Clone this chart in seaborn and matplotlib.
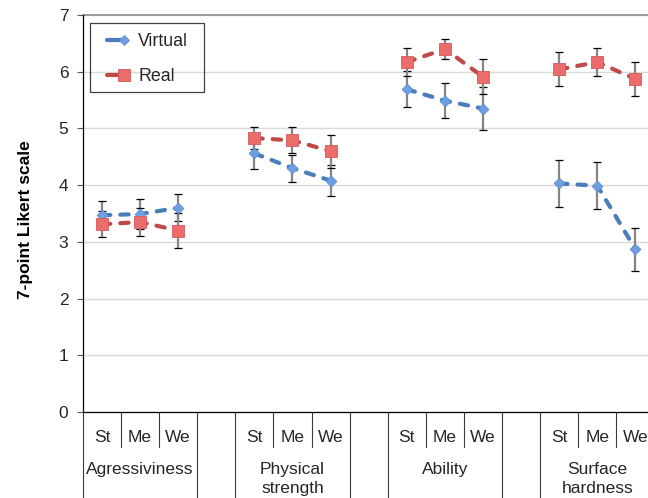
import numpy as np
import pandas as pd
import matplotlib
matplotlib.use("Agg")
import matplotlib.pyplot as plt
import seaborn as sns
from matplotlib.lines import Line2D
from matplotlib.patches import Rectangle
from matplotlib.legend_handler import HandlerLine2D

# ---- data ----
groups = ["Agressiviness", "Physical\nstrength", "Ability", "Surface\nhardness"]
levels = ["St", "Me", "We"]
virtual_mean = [3.47, 3.49, 3.60, 4.56, 4.30, 4.08, 5.69, 5.49, 5.35, 4.03, 3.99, 2.87]
virtual_err = [0.25, 0.26, 0.24, 0.28, 0.24, 0.28, 0.32, 0.31, 0.38, 0.42, 0.41, 0.38]
real_mean = [3.31, 3.35, 3.20, 4.83, 4.79, 4.60, 6.17, 6.40, 5.91, 6.04, 6.17, 5.87]
real_err = [0.23, 0.24, 0.30, 0.19, 0.23, 0.29, 0.25, 0.17, 0.31, 0.30, 0.24, 0.30]
y_ticks = [0, 1, 2, 3, 4, 5, 6, 7]

rows = []
for sname, means, errs in [("Virtual", virtual_mean, virtual_err), ("Real", real_mean, real_err)]:
    for gi, g in enumerate(groups):
        for li, lv in enumerate(levels):
            k = gi * 3 + li
            rows.append(dict(series=sname, group=g, level=lv, x=gi * 4 + li,
                             mean=means[k], err=errs[k]))
df = pd.DataFrame(rows)

style = {
    "Virtual": dict(line="#4A7EBB", face="#6E9FE0", edge="#5B8ED6", marker="D", s=30),
    "Real": dict(line="#BE4B48", face="#EC6B6B", edge="#D65A5A", marker="s", s=64),
}

sns.set_theme(style="white")
plt.rcParams["font.family"] = ["Liberation Sans", "DejaVu Sans"]
FS = 12.5

W, H = 648, 498
fig = plt.figure(figsize=(W / 100, H / 100), dpi=100)
ax = fig.add_axes([82.9 / W, 1 - 412 / H, 571.6 / W, 397 / H])

for sname in ["Virtual", "Real"]:
    st = style[sname]
    sub = df[df.series == sname]
    sns.lineplot(data=sub, x="x", y="mean", units="group", estimator=None,
                 color=st["line"], lw=3.0, linestyle=(0, (2.0, 2.4)),
                 dash_capstyle="round", ax=ax, zorder=2, legend=False)
    cont = ax.errorbar(sub["x"], sub["mean"], yerr=sub["err"], fmt="none",
                       ecolor="#858585", elinewidth=1.6, capsize=2.6,
                       capthick=0.9, zorder=3)
    for cl in cont[1]:
        cl.set_markeredgecolor("black")
    sns.scatterplot(data=sub, x="x", y="mean", marker=st["marker"], s=st["s"],
                    color=st["face"], edgecolor=st["edge"], linewidth=0.6,
                    ax=ax, zorder=4, legend=False)

ax.set_xlim(-0.5, 14.5)
ax.set_ylim(0, 7)
ax.set_yticks(y_ticks)
ax.set_yticklabels([str(t) for t in y_ticks], fontsize=FS)
ax.yaxis.grid(True, color="#D9D9D9", lw=1.0)
ax.xaxis.grid(False)
ax.set_axisbelow(True)
ax.axhline(7, color="#8C8C8C", lw=1.2, zorder=1, clip_on=False)
for side in ["top", "right"]:
    ax.spines[side].set_visible(False)
for side in ["left", "bottom"]:
    ax.spines[side].set_color("black")
    ax.spines[side].set_linewidth(0.9)
ax.tick_params(axis="y", which="both", left=True, length=4, width=0.8,
               color="#555555", pad=6.5, labelsize=FS)

xt = df[df.series == "Virtual"]["x"].tolist()
ax.set_xticks(xt)
ax.set_xticklabels(levels * len(groups), fontsize=FS)
ax.tick_params(axis="x", length=0, pad=13)
ax.set_xlabel("")

ax.set_ylabel("7-point Likert scale", fontsize=12.5, fontweight="bold", color="black")
ax.yaxis.set_label_coords(-0.088, 0.485)

# category table lines below the axis
trans = ax.get_xaxis_transform()
short_y = -(447 - 412) / 397
long_y = -0.25
for gi in range(len(groups)):
    base = gi * 4
    for b in [base + 0.5, base + 1.5]:
        ax.plot([b, b], [0, short_y], transform=trans, color="#3a3a3a", lw=0.8,
                clip_on=False)
    for b in [base - 0.5, base + 2.5]:
        ax.plot([b, b], [0, long_y], transform=trans, color="#3a3a3a", lw=0.8,
                clip_on=False)
    ax.text(base + 1, -(462 - 412) / 397, groups[gi], transform=trans,
            ha="center", va="top", fontsize=FS, linespacing=1.33)


class EndMarkerHandler(HandlerLine2D):
    def create_artists(self, *args, **kwargs):
        arts = super().create_artists(*args, **kwargs)
        for a in arts:
            xd = np.asarray(a.get_xdata(), dtype=float)
            x0 = xd[0] + 0.35 * (xd[-1] - xd[0])
            a.set_xdata(np.linspace(x0, xd[-1], 3))
            a.set_markevery([2])
        return arts


handles = [
    Line2D([], [], color=style[s]["line"], lw=3.0, marker=style[s]["marker"],
           markersize=5.5 if s == "Virtual" else 8, markerfacecolor=style[s]["face"],
           markeredgecolor=style[s]["edge"], markeredgewidth=0.6)
    for s in ["Virtual", "Real"]
]
leg = ax.legend(handles, ["Virtual", "Real"], loc="upper left",
                bbox_to_anchor=(98 / W, 1 - 33 / H), bbox_transform=fig.transFigure,
                borderaxespad=0, borderpad=0, fontsize=12.8, frameon=False,
                handlelength=1.46, handletextpad=0.8, labelspacing=1.02,
                handler_map={Line2D: EndMarkerHandler(numpoints=1)})
fig.add_artist(Rectangle((90 / W, 1 - 92 / H), 114 / W, 69 / H,
                         transform=fig.transFigure, fill=False,
                         edgecolor="#404040", lw=0.9, zorder=5))

fig.savefig("out.png", dpi=100)
